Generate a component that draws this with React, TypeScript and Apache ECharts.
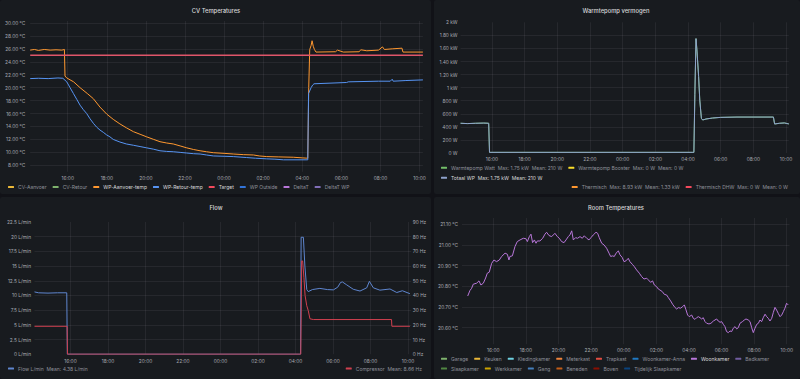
import React, { useEffect, useRef } from "react";
import * as echarts from "echarts";

// Time values are hours since 00:00 of the first day (values > 24 are the next morning).
const T_START = 14.08;
const T_END = 34.17;

// ---------- CV Temperatures ----------
const cvNames = ["CV-Aanvoer", "CV-Retour", "WP-Aanvoer-temp", "WP-Retour-temp", "Target", "WP Outside", "DeltaT", "DeltaT WP"];
const cvColors = ["#EAB839", "#7EB26D", "#FF9830", "#5794F2", "#F2495C", "#3274D9", "#B877D9", "#806EB7"];
const cvBright = ["WP-Aanvoer-temp", "WP-Retour-temp", "Target"];

const aanvoerTime = [14.08, 14.3, 14.5, 14.8, 15.1, 15.4, 15.7, 15.83, 15.86, 15.95, 16.3, 16.63, 17.0, 17.31, 17.65, 18.0, 18.33, 18.67, 19.0, 19.36, 19.7, 20.04, 20.4, 20.72, 21.06, 21.4, 21.75, 22.09, 22.43, 22.77, 23.1, 23.45, 24.0, 24.47, 25.0, 25.5, 25.8, 26.18, 26.8, 27.54, 28.0, 28.28, 28.33, 28.38, 28.45, 28.5, 28.56, 28.62, 28.7, 29.7, 29.8, 30.1, 30.9, 31.0, 31.3, 31.9, 32.1, 32.2, 32.6, 33.1, 33.15, 34.17];
const aanvoerTemp = [25.8, 25.9, 25.75, 25.9, 25.8, 25.85, 25.8, 25.9, 21.8, 21.5, 20.9, 20.0, 19.1, 18.3, 17.0, 15.9, 15.1, 14.4, 13.8, 13.2, 12.8, 12.4, 12.0, 11.65, 11.45, 11.3, 11.0, 10.7, 10.45, 10.25, 10.1, 9.95, 9.85, 9.75, 9.65, 9.6, 9.45, 9.35, 9.3, 9.25, 9.15, 9.1, 20.0, 25.9, 26.5, 27.25, 26.4, 25.9, 25.5, 25.55, 25.8, 25.5, 25.55, 25.85, 25.7, 25.8, 26.3, 25.9, 26.0, 26.1, 25.5, 25.5];

const retourTime = [14.08, 14.5, 15.0, 15.5, 15.75, 15.95, 16.12, 16.29, 16.46, 16.63, 16.8, 16.97, 17.14, 17.31, 17.48, 17.65, 17.82, 17.99, 18.16, 18.33, 18.67, 19.0, 19.36, 19.7, 20.04, 20.38, 20.72, 21.06, 21.4, 21.75, 22.09, 22.43, 22.77, 23.1, 23.45, 24.0, 24.47, 25.15, 25.6, 26.18, 26.6, 27.04, 28.28, 28.32, 28.45, 28.53, 28.6, 30.27, 30.35, 31.9, 32.5, 32.6, 32.65, 33.3, 34.17];
const retourTemp = [21.4, 21.45, 21.4, 21.5, 21.45, 20.9, 20.0, 19.1, 18.2, 17.3, 16.6, 16.0, 15.2, 14.5, 13.9, 13.45, 13.1, 12.7, 12.4, 12.0, 11.6, 11.3, 11.1, 10.9, 10.7, 10.5, 10.25, 10.15, 10.1, 10.0, 9.9, 9.8, 9.75, 9.6, 9.45, 9.4, 9.35, 9.2, 9.1, 9.0, 8.95, 8.85, 8.85, 19.1, 20.0, 20.4, 20.6, 20.8, 20.9, 21.0, 21.0, 21.3, 21.0, 21.1, 21.2];

const targetTime = [14.08, 34.17];
const targetTemp = [25, 25];

// ---------- Warmtepomp vermogen ----------
const powerNames = ["Warmtepomp Watt", "Warmtepomp Booster", "Totaal WP", "Thermisch", "Thermisch DHW"];
const powerColors = ["#73BF69", "#FADE2A", "#8ea2cc", "#FF9830", "#F2495C"];
const powerStats = ["Max: 1.75 kW  Mean: 210 W", "Max: 0 W  Mean: 0 W", "Max: 1.75 kW  Mean: 210 W", "Max: 8.93 kW  Mean: 1.33 kW", "Max: 0 W  Mean: 0 W"];
const powerTime = [14.08, 14.5, 15.0, 15.5, 15.8, 15.85, 28.3, 28.36, 28.42, 28.49, 28.55, 28.65, 28.72, 28.82, 28.9, 29.1, 29.5, 30.0, 31.0, 33.23, 33.3, 33.6, 33.9, 34.17];
const powerWatt = [455, 450, 455, 458, 455, 10, 10, 10, 900, 1750, 1560, 1170, 810, 530, 505, 520, 535, 545, 550, 550, 444, 455, 460, 445];

// ---------- Flow ----------
const flowTime = [14.08, 14.3, 14.8, 15.3, 15.8, 15.83, 28.27, 28.3, 28.42, 28.5, 28.6, 28.68, 28.9, 29.3, 29.7, 30.02, 30.25, 30.4, 30.5, 30.73, 31.08, 31.44, 31.8, 31.94, 32.15, 32.5, 33.04, 33.4, 33.7, 34.1];
const flowLmin = [10.6, 10.45, 10.4, 10.45, 10.45, 0, 0, 19.9, 19.9, 15, 11.0, 10.65, 11.0, 11.2, 11.0, 10.95, 11.4, 12.2, 12.3, 11.8, 11.05, 10.75, 11.3, 12.4, 11.3, 10.9, 11.1, 10.5, 10.8, 10.3];
const compTime = [14.08, 15.82, 15.84, 28.28, 28.33, 28.38, 28.45, 28.51, 28.6, 28.68, 28.77, 28.95, 33.12, 33.14, 34.1];
const compHz = [19, 19, 0, 0, 63.5, 63.5, 52, 40, 33, 29.7, 24.1, 23.6, 23.6, 19, 19];

// ---------- Room Temperatures ----------
const roomRow1 = ["Garage", "Keuken", "Kledingkamer", "Meterkast", "Trapkast", "Woonkamer-Anna", "Woonkamer", "Badkamer"];
const roomRow2 = ["Slaapkamer", "Werkkamer", "Gang", "Beneden", "Boven", "Tijdelijk Slaapkamer"];
const roomColors = ["#7EB26D", "#EAB839", "#6ED0E0", "#EF843C", "#E24D42", "#1F78C1", "#B877D9", "#705DA0", "#508642", "#CCA300", "#447EBC", "#C15C17", "#890F02", "#0A437C"];
const woonTime = [14.43, 14.57, 14.67, 14.77, 14.98, 15.12, 15.24, 15.39, 15.53, 15.63, 15.75, 15.9, 16.04, 16.2, 16.37, 16.51, 16.72, 16.86, 16.96, 17.02, 17.17, 17.33, 17.47, 17.64, 17.84, 18.0, 18.09, 18.21, 18.31, 18.41, 18.52, 18.62, 18.7, 18.86, 19.03, 19.17, 19.27, 19.42, 19.58, 19.68, 19.78, 19.93, 20.05, 20.19, 20.34, 20.46, 20.6, 20.7, 20.81, 20.91, 21.05, 21.17, 21.32, 21.46, 21.58, 21.73, 21.87, 21.99, 22.13, 22.3, 22.4, 22.5, 22.65, 22.79, 22.95, 23.1, 23.2, 23.32, 23.42, 23.53, 23.67, 23.77, 23.91, 24.02, 24.14, 24.28, 24.38, 24.53, 24.65, 24.79, 24.96, 25.1, 25.24, 25.41, 25.51, 25.65, 25.77, 25.88, 26.02, 26.12, 26.22, 26.37, 26.49, 26.63, 26.74, 26.88, 27.0, 27.15, 27.25, 27.35, 27.49, 27.62, 27.72, 27.82, 27.92, 28.02, 28.17, 28.27, 28.37, 28.47, 28.58, 28.68, 28.78, 28.88, 28.99, 29.09, 29.23, 29.35, 29.5, 29.6, 29.7, 29.8, 29.91, 30.01, 30.11, 30.21, 30.31, 30.42, 30.52, 30.62, 30.72, 30.83, 30.93, 31.03, 31.13, 31.28, 31.4, 31.5, 31.64, 31.75, 31.85, 31.95, 32.05, 32.16, 32.26, 32.36, 32.46, 32.56, 32.67, 32.77, 32.87, 32.97, 33.08, 33.18, 33.28, 33.38, 33.48, 33.59, 33.69, 33.79, 33.89, 33.99, 34.09];
const woonTemp = [20.753, 20.78, 20.79, 20.81, 20.815, 20.826, 20.806, 20.815, 20.84, 20.863, 20.868, 20.911, 20.927, 20.919, 20.927, 20.944, 20.96, 20.955, 20.927, 20.944, 20.947, 20.992, 21.016, 21.024, 21.032, 21.03, 21.016, 21.04, 21.052, 21.011, 21.024, 21.008, 21.019, 21.019, 21.032, 21.052, 21.061, 21.045, 21.04, 21.048, 21.056, 21.04, 21.032, 21.016, 21.011, 21.024, 21.04, 21.048, 21.068, 21.024, 21.035, 21.032, 21.04, 21.032, 21.044, 21.032, 21.024, 21.035, 21.048, 21.061, 21.056, 21.035, 21.008, 21.0, 20.984, 20.96, 20.944, 20.947, 20.944, 20.96, 20.971, 20.952, 20.939, 20.919, 20.923, 20.935, 20.919, 20.906, 20.895, 20.879, 20.863, 20.847, 20.835, 20.839, 20.831, 20.819, 20.826, 20.806, 20.798, 20.787, 20.782, 20.774, 20.761, 20.758, 20.745, 20.729, 20.713, 20.697, 20.69, 20.697, 20.694, 20.702, 20.71, 20.686, 20.661, 20.653, 20.661, 20.645, 20.64, 20.648, 20.653, 20.648, 20.642, 20.648, 20.629, 20.621, 20.618, 20.621, 20.632, 20.637, 20.642, 20.632, 20.626, 20.629, 20.616, 20.605, 20.581, 20.576, 20.584, 20.581, 20.597, 20.605, 20.594, 20.6, 20.621, 20.629, 20.637, 20.642, 20.637, 20.629, 20.6, 20.576, 20.597, 20.616, 20.621, 20.637, 20.629, 20.648, 20.665, 20.653, 20.645, 20.632, 20.645, 20.674, 20.698, 20.685, 20.669, 20.653, 20.661, 20.677, 20.694, 20.718, 20.71];

// ---------- styling ----------
const PAGE_BG = "#111217";
const PANEL_BG = "#181b1f";
const FONT = "Inter, Roboto, sans-serif";
const TICK = "#a9abb3";
const BRIGHT = "#d8d9da";
const DIM = "#8e9099";
const GRIDLINE = "rgba(204,204,220,0.08)";
const panels = [
  [0, 0, 431, 194],
  [434, 0, 366, 194],
  [0, 197, 431, 182],
  [434, 197, 366, 182],
];

const zip = (t: number[], v: number[]) => t.map((x, i) => [x, v[i]]);
const pad = (n: number) => (n < 10 ? "0" : "") + n;
const near = (v: number, step: number) => Math.abs(v / step - Math.round(v / step)) < 0.01;

const fmtHour = (v: number) => {
  if (!near(v, 2)) return "";
  return pad(((Math.round(v) % 24) + 24) % 24) + ":00";
};

function xAxis(gridIndex: number, margin: number) {
  return {
    type: "value",
    gridIndex,
    min: T_START,
    max: T_END,
    splitNumber: 10,
    minInterval: 2,
    maxInterval: 2,
    axisLine: { show: false },
    axisTick: { show: false },
    splitLine: { show: true, showMinLine: false, showMaxLine: false, lineStyle: { color: GRIDLINE, width: 1 } },
    axisLabel: { margin, color: TICK, fontSize: 4.8, fontFamily: FONT, formatter: fmtHour },
  };
}

function yAxis(gridIndex: number, extra: any, formatter: (v: number) => string, margin: number, split = true) {
  return {
    type: "value",
    gridIndex,
    axisLine: { show: false },
    axisTick: { show: false },
    splitLine: { show: split, showMinLine: false, showMaxLine: false, lineStyle: { color: GRIDLINE, width: 1 } },
    axisLabel: { margin, color: TICK, fontSize: 4.8, fontFamily: FONT, formatter },
    ...extra,
  };
}

function legend(names: string[], bright: string[], pos: any, fmt?: (n: string) => string) {
  return {
    data: names.map((n) => ({ name: n, textStyle: { color: bright.includes(n) ? BRIGHT : DIM } })),
    icon: "roundRect",
    itemWidth: 6,
    itemHeight: 2,
    itemGap: 6,
    padding: 0,
    orient: "horizontal",
    selectedMode: false,
    textStyle: { fontSize: 5, fontFamily: FONT, color: DIM, padding: [0, 0, 0, -1] },
    formatter: fmt,
    ...pos,
  };
}

const line = (name: string, color: string, xi: number, yi: number, data: number[][], width = 1, extra: any = {}) => ({
  type: "line",
  name,
  xAxisIndex: xi,
  yAxisIndex: yi,
  data,
  showSymbol: false,
  symbol: "none",
  color,
  lineStyle: { color, width },
  emphasis: { disabled: true },
  ...extra,
});

function buildOption() {
  const cvData: Record<string, number[][]> = {
    "WP-Aanvoer-temp": zip(aanvoerTime, aanvoerTemp),
    "WP-Retour-temp": zip(retourTime, retourTemp),
    Target: zip(targetTime, targetTemp),
  };
  const powerData: Record<string, number[][]> = {
    "Warmtepomp Watt": zip(powerTime, powerWatt),
    "Totaal WP": zip(powerTime, powerWatt),
  };
  const roomNames = [...roomRow1, ...roomRow2];
  const series: any[] = [];
  cvNames.forEach((n, i) =>
    series.push(line(n, cvColors[i], 0, 0, cvData[n] || [], n === "Target" ? 1.4 : 1, n === "Target" ? { lineStyle: { color: "#e0566a", width: 1.4 } } : {}))
  );
  powerNames.forEach((n, i) => series.push(line(n, powerColors[i], 1, 1, powerData[n] || [], 1)));
  series.push(line("Flow L/min", "#5f86cf", 2, 2, zip(flowTime, flowLmin), 1));
  series.push(line("Compressor", "#d0404f", 2, 3, zip(compTime, compHz), 1));
  roomNames.forEach((n, i) => series.push(line(n, roomColors[i], 3, 4, n === "Woonkamer" ? zip(woonTime, woonTemp) : [], 1)));

  const titleText = (text: string, x: number, y: number) => ({
    type: "text",
    x,
    y,
    z: 100,
    style: { text, align: "center", verticalAlign: "middle", fill: BRIGHT, fontSize: 5.8, fontWeight: 500, fontFamily: FONT },
  });

  const powerFmt = (n: string) => n + "  " + powerStats[powerNames.indexOf(n)];

  return {
    animation: false,
    backgroundColor: "transparent",
    textStyle: { fontFamily: FONT },
    graphic: [
      titleText("CV Temperatures", 216, 10),
      titleText("Warmtepomp vermogen", 616, 10),
      titleText("Flow", 216, 207),
      titleText("Room Temperatures", 616, 207),
    ],
    grid: [
      { left: 30.2, right: 377.1, top: 21, bottom: 207.2, outerBoundsMode: "none" },
      { left: 460.6, right: 11.2, top: 22.3, bottom: 226, outerBoundsMode: "none" },
      { left: 34.5, right: 388.8, top: 222, bottom: 24.8, outerBoundsMode: "none" },
      { left: 462, right: 10.5, top: 218, bottom: 34.8, outerBoundsMode: "none" },
    ],
    xAxis: [xAxis(0, 4), xAxis(1, 3), xAxis(2, 4), xAxis(3, 3.5)],
    yAxis: [
      yAxis(0, { min: 7, max: 30.3, splitNumber: 11, minInterval: 2, maxInterval: 2 }, (v) => (near(v, 2) ? v.toFixed(2) + " °C" : ""), 5),
      yAxis(1, { min: 0, max: 2000, interval: 200 }, (v) => (v === 0 ? "0 W" : v < 1000 ? v + " W" : v % 1000 === 0 ? v / 1000 + " kW" : (v / 1000).toFixed(2) + " kW"), 3),
      yAxis(2, { min: 0, max: 22.5, interval: 2.5 }, (v) => v + " L/min", 3.5),
      yAxis(2, { min: 0, max: 90, interval: 10, position: "right" }, (v) => v + " Hz", 1.5, false),
      yAxis(3, { min: 20.52, max: 21.13, splitNumber: 6, minInterval: 0.1, maxInterval: 0.1 }, (v) => (near(v, 0.1) ? v.toFixed(2) + " °C" : ""), 4),
    ],
    legend: [
      legend(cvNames, cvBright, { left: 8, top: 184.5 }),
      legend(["Warmtepomp Watt", "Warmtepomp Booster"], [], { left: 441, top: 165.3 }, powerFmt),
      legend(["Totaal WP"], ["Totaal WP"], { left: 441, top: 175.3 }, powerFmt),
      legend(["Thermisch", "Thermisch DHW"], [], { right: 12, top: 184.5 }, powerFmt),
      legend(["Flow L/min"], [], { left: 8, top: 366 }, (n: string) => n + "  Mean: 4.38 L/min"),
      legend(["Compressor"], [], { right: 378, top: 366 }, (n: string) => n + "  Mean: 8.66 Hz"),
      legend(roomRow1, ["Woonkamer"], { left: 441, top: 356.3 }),
      legend(roomRow2, [], { left: 441, top: 366 }),
    ],
    series,
  };
}

export default function App() {
  const ref = useRef<HTMLDivElement>(null);
  useEffect(() => {
    document.body.style.margin = "0";
    const chart = echarts.init(ref.current!, null, { renderer: "svg" });
    chart.setOption(buildOption() as any);
    return () => chart.dispose();
  }, []);
  return (
    <div style={{ position: "relative", width: 800, height: 379, background: PAGE_BG, overflow: "hidden" }}>
      {panels.map((p, i) => (
        <div
          key={i}
          style={{ position: "absolute", left: p[0], top: p[1], width: p[2], height: p[3], background: PANEL_BG, borderRadius: 2 }}
        />
      ))}
      <div ref={ref} style={{ position: "absolute", left: 0, top: 0, width: 800, height: 379 }} />
    </div>
  );
}
